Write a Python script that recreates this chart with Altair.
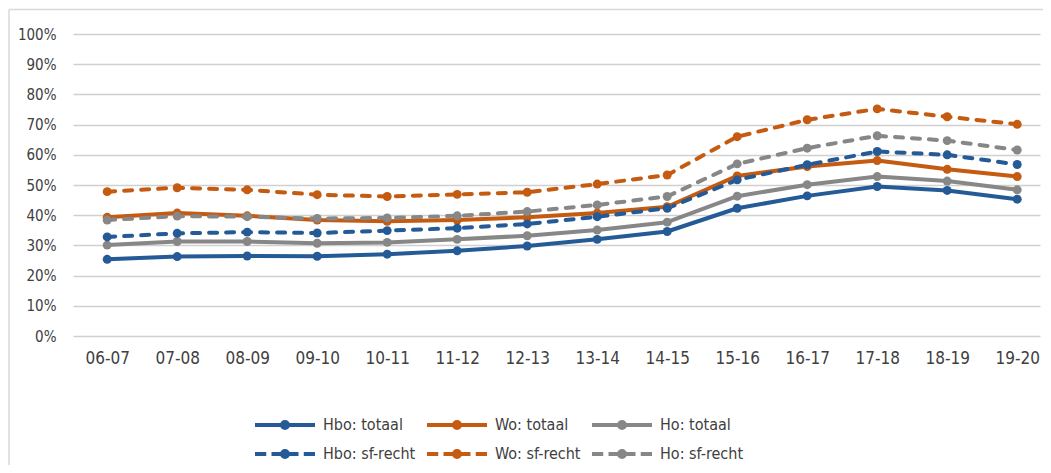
import altair as alt
import pandas as pd

years = ["06-07", "07-08", "08-09", "09-10", "10-11", "11-12", "12-13",
         "13-14", "14-15", "15-16", "16-17", "17-18", "18-19", "19-20"]

hbo_totaal = [25.4, 26.3, 26.5, 26.4, 27.1, 28.2, 29.8, 32.0, 34.6, 42.3, 46.4, 49.5, 48.2, 45.3]
wo_totaal = [39.3, 40.7, 39.8, 38.4, 38.0, 38.4, 39.3, 40.7, 42.8, 53.0, 56.1, 58.1, 55.2, 52.8]
ho_totaal = [30.1, 31.3, 31.3, 30.7, 31.0, 32.0, 33.2, 35.1, 37.7, 46.3, 50.1, 52.8, 51.3, 48.4]
hbo_sf = [32.8, 34.0, 34.4, 34.1, 34.9, 35.7, 37.1, 39.5, 42.3, 51.7, 56.7, 61.1, 60.0, 56.8]
wo_sf = [47.8, 49.1, 48.4, 46.8, 46.2, 46.9, 47.6, 50.3, 53.3, 66.0, 71.6, 75.2, 72.6, 70.1]
ho_sf = [38.4, 39.7, 39.5, 38.9, 39.1, 39.8, 41.2, 43.4, 46.2, 57.0, 62.2, 66.3, 64.7, 61.6]

series_names = ["Hbo: totaal", "Wo: totaal", "Ho: totaal",
                "Hbo: sf-recht", "Wo: sf-recht", "Ho: sf-recht"]
series_values = [hbo_totaal, wo_totaal, ho_totaal, hbo_sf, wo_sf, ho_sf]
series_kind = ["totaal", "totaal", "totaal", "sf", "sf", "sf"]

BLUE, ORANGE, GREY = "#245A96", "#C55A11", "#878787"
colors = [BLUE, ORANGE, GREY, BLUE, ORANGE, GREY]

rows = []
for name, kind, vals in zip(series_names, series_kind, series_values):
    for yr, v in zip(years, vals):
        rows.append({"Jaar": yr, "Reeks": name, "Soort": kind, "Waarde": v / 100.0})
df = pd.DataFrame(rows)

FONT = "DejaVu Sans Condensed, DejaVu Sans"
TEXT = "#404040"

# legend symbols: unit = 5 px (symbolSize 100)
dot = ("M0,-0.6A0.6,0.6,0,1,1,0,0.6A0.6,0.6,0,1,1,0,-0.6"
       "M0,-0.2A0.2,0.2,0,1,1,0,0.2A0.2,0.2,0,1,1,0,-0.2")
solid_sym = "M-6,0H6" + dot
dash_sym = "M-6,0H-3.75M-2.7,0H2.7M3.75,0H6" + dot
shapes = [solid_sym, solid_sym, solid_sym, dash_sym, dash_sym, dash_sym]

color_scale = alt.Scale(domain=series_names, range=colors)

x_enc = alt.X("Jaar:N", sort=years,
              scale=alt.Scale(type="point", padding=0.407, align=0.6),
              axis=alt.Axis(title=None, labelAngle=0, ticks=False, domain=False,
                            grid=False, labelFontSize=17, labelFont=FONT,
                            labelColor=TEXT, labelPadding=14))
y_enc = alt.Y("Waarde:Q",
              scale=alt.Scale(domain=[0, 1], nice=False),
              axis=alt.Axis(title=None, values=[i / 10 for i in range(11)],
                            format=".0%", ticks=False, domain=False,
                            gridColor="#D0D0D0", gridWidth=1.3,
                            labelFontSize=15, labelFont=FONT, labelColor=TEXT,
                            labelPadding=17))

base = alt.Chart(df)

legend = alt.Legend(title=None, orient="none", legendX=204, legendY=383,
                    direction="horizontal", columns=3, symbolSize=100,
                    symbolStrokeWidth=4, symbolOpacity=1, labelFontSize=16,
                    labelFont=FONT, labelColor=TEXT, labelOffset=30,
                    columnPadding=3, rowPadding=7, symbolOffset=0)

legend_layer = base.transform_filter("false").mark_point(
    filled=False, strokeWidth=4, opacity=1).encode(
    x=x_enc, y=y_enc,
    color=alt.Color("Reeks:N", scale=color_scale, legend=legend),
    shape=alt.Shape("Reeks:N", scale=alt.Scale(domain=series_names, range=shapes),
                    legend=legend),
)

solid_lines = base.transform_filter("datum.Soort == 'totaal'").mark_line(
    strokeWidth=4, strokeJoin="round", strokeCap="round").encode(
    x=x_enc, y=y_enc,
    color=alt.Color("Reeks:N", scale=color_scale, legend=None),
)

dashed_lines = base.transform_filter("datum.Soort == 'sf'").mark_line(
    strokeWidth=4, strokeJoin="round", strokeCap="round",
    strokeDash=[8, 9]).encode(
    x=x_enc, y=y_enc,
    color=alt.Color("Reeks:N", scale=color_scale, legend=None),
)

points = base.mark_circle(size=80, opacity=1).encode(
    x=x_enc, y=y_enc,
    color=alt.Color("Reeks:N", scale=color_scale, legend=None),
)

one = alt.Chart(pd.DataFrame({"a": [0]}))
frame_left = one.mark_rule(color="#D9D9D9", strokeWidth=1.5).encode(
    x=alt.value(-64), y=alt.value(-24.5), y2=alt.value(431))
frame_top = one.mark_rule(color="#D9D9D9", strokeWidth=1.5).encode(
    x=alt.value(-64), x2=alt.value(970), y=alt.value(-24.5))

chart = alt.layer(legend_layer, frame_left, frame_top, solid_lines,
                  dashed_lines, points).properties(
    width=967, height=302,
    padding={"left": 65, "top": 26, "right": 3, "bottom": 129},
    autosize=alt.AutoSizeParams(type="none"),
).configure_view(stroke=None)

chart.save("out.html", embed_options={"renderer": "svg", "actions": False})
